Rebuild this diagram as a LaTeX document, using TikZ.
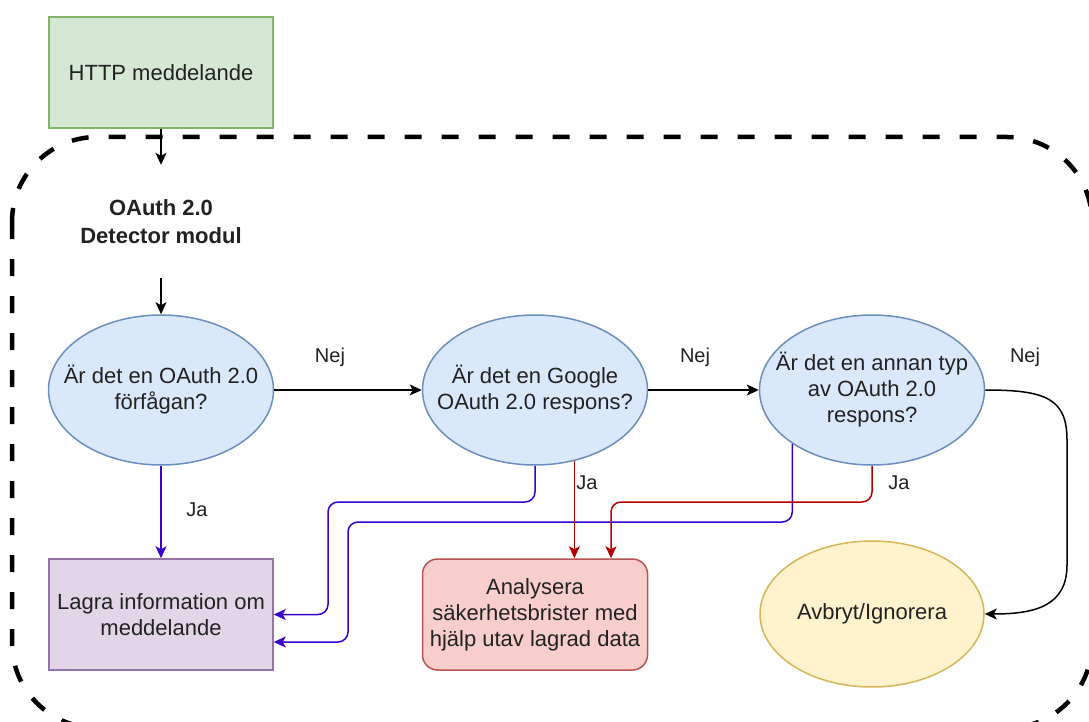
\documentclass[tikz,border=0pt]{standalone}
\usepackage{fontspec}
\setmainfont{Liberation Sans}
\usetikzlibrary{shapes.geometric,arrows.meta,calc}
\definecolor{txt}{HTML}{222222}
\definecolor{greenF}{HTML}{D5E8D4}\definecolor{greenS}{HTML}{82B366}
\definecolor{blueF}{HTML}{DAE8FC}\definecolor{blueS}{HTML}{6C8EBF}
\definecolor{purpF}{HTML}{E1D5E7}\definecolor{purpS}{HTML}{9673A6}
\definecolor{redF}{HTML}{F8CECC}\definecolor{redS}{HTML}{B85450}
\definecolor{yelF}{HTML}{FFF2CC}\definecolor{yelS}{HTML}{D6B656}
\definecolor{indigo}{HTML}{3700CC}
\definecolor{darkred}{HTML}{B20000}
\begin{document}
\begin{tikzpicture}[x=1pt,y=-1pt,
  every node/.style={font=\fontsize{22}{26}\selectfont, text=txt, align=center, inner sep=0pt},
  boxnode/.style={draw, line width=1.5pt, minimum width=224pt, minimum height=111pt},
  qell/.style={ellipse, draw=blueS, fill=blueF, line width=1.5pt, minimum width=225pt, minimum height=150pt, inner xsep=-60pt, inner ysep=-30pt},
  arr/.style={-{Stealth[length=12pt,width=11pt,inset=3pt]}, line width=1.5pt},
  blk/.style={arr, draw=black},
  blu/.style={arr, draw=indigo, rounded corners=10pt},
  rd/.style={arr, draw=darkred, rounded corners=10pt},
  lbl/.style={font=\fontsize{20}{24}\selectfont}
]
\useasboundingbox (0,0) rectangle (1089,722);
\fill[white] (0,0) rectangle (1089,722);

% dashed module frame
\draw[line width=4.5pt, dash pattern=on 17pt off 20pt, rounded corners=85pt] (12,137) rectangle (1092,728);

% nodes
\node[boxnode, draw=greenS, fill=greenF] (http) at (161,72.5) {HTTP meddelande};
\node[font=\fontsize{22}{28}\selectfont\bfseries, minimum height=113pt, minimum width=200pt] (title) at (161,221.5) {OAuth 2.0\\Detector modul};
\node[qell] (e1) at (161,390) {Är det en OAuth 2.0\\förfågan?};
\node[qell] (e2) at (535,390) {Är det en Google\\OAuth 2.0 respons?};
\node[qell] (e3) at (872,390) {Är det en annan typ\\av OAuth 2.0\\respons?};
\node[boxnode, draw=purpS, fill=purpF] (lagra) at (161,614.5) {Lagra information om\\meddelande};
\node[boxnode, draw=redS, fill=redF, rounded corners=15pt, minimum width=225pt] (ana) at (535,614.5) {Analysera\\säkerhetsbrister med\\hjälp utav lagrad data};
\node[ellipse, draw=yelS, fill=yelF, line width=1.5pt, minimum width=224pt, minimum height=146pt, inner xsep=-40pt] (avb) at (872,614) {Avbryt/Ignorera};

% labels
\node[lbl] (n1) at (330,357) {Nej};
\node[lbl] (n2) at (695,357) {Nej};
\node[lbl] (n3) at (1025,357) {Nej};
\node[lbl] (j1) at (197,510) {Ja};
\node[lbl] (j2) at (587,483) {Ja};
\node[lbl] (j3) at (899,483) {Ja};

% helper coordinates
\coordinate (b1) at (328,502);
\coordinate (b2) at (348,522);
\coordinate (r2) at (611,502);

% black connectors
\draw[blk] (http.south) -- (title.north);
\draw[blk] (title.south) -- (e1.north);
\draw[blk] (e1.east) -- (e2.west);
\draw[blk] (e2.east) -- (e3.west);
\draw[blk] (e3.east) .. controls (1045,390) and (1067,398) .. (1067,440) -- (1067,565) .. controls (1067,606) and (1035,614) .. (avb.east);

% blue connectors
\draw[blu] (e1.south) -- (lagra.north);
\draw[blu] (e2.south) |- (b1) |- (lagra.east);
\draw[blu] (e3.-146) |- (b2) |- ($(lagra.east)+(0,27.5)$);

% red connectors
\draw[rd] (e2.-61.5) -- (e2.-61.5 |- ana.north);
\draw[rd] (e3.south) |- (r2) -- (r2 |- ana.north);
\end{tikzpicture}
\end{document}
